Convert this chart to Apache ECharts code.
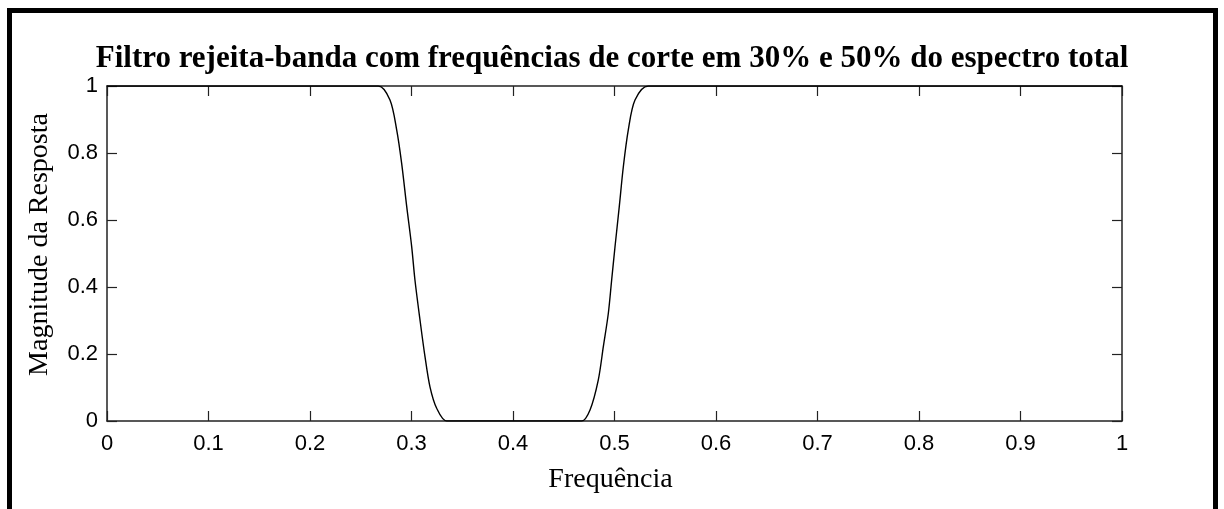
<!DOCTYPE html>
<html>
<head>
<meta charset="utf-8">
<script src="https://cdn.jsdelivr.net/npm/echarts@6/dist/echarts.min.js"></script>
<style>
  html, body { margin: 0; padding: 0; background: #fff; }
  #main { width: 1224px; height: 509px; }
</style>
</head>
<body>
<div id="main"></div>
<script>
// pontos (frequencia normalizada, magnitude)
var freq = [0, 0.2673, 0.2788, 0.2854, 0.2903, 0.2953, 0.3002, 0.3034, 0.3084, 0.3133, 0.3182, 0.3248, 0.3347,
            0.4000, 0.4677, 0.4759, 0.4840, 0.4890, 0.4939, 0.4972, 0.5005, 0.5047, 0.5087, 0.5136, 0.5202, 0.5333, 1];
var magnitude = [1, 1, 0.958, 0.869, 0.769, 0.640, 0.520, 0.421, 0.301, 0.192, 0.102, 0.038, 0,
                 0, 0, 0.033, 0.122, 0.222, 0.321, 0.421, 0.520, 0.640, 0.759, 0.869, 0.958, 1, 1];
var xTicks = [0, 0.1, 0.2, 0.3, 0.4, 0.5, 0.6, 0.7, 0.8, 0.9, 1];
var yTicks = [0, 0.2, 0.4, 0.6, 0.8, 1];

var myChart = echarts.init(document.getElementById('main'));

var pts = freq.map(function (f, i) { return [f, magnitude[i]]; });

var axisLine = { onZero: false, lineStyle: { color: '#222', width: 1.5 } };
var tick = { inside: true, length: 10, lineStyle: { color: '#222', width: 1.2 } };
var tickLabel = { color: '#000', fontFamily: 'Liberation Sans', fontSize: 22 };

myChart.setOption({
  animation: false,
  backgroundColor: '#fff',
  title: {
    text: 'Filtro rejeita-banda com frequências de corte em 30% e 50% do espectro total',
    left: 'center',
    top: 38,
    textStyle: { fontFamily: 'Liberation Serif', fontWeight: 'bold', fontSize: 31, color: '#000' }
  },
  graphic: [{
    type: 'rect',
    shape: { x: 9.5, y: 10.5, width: 1206, height: 600 },
    style: { fill: null, stroke: '#000', lineWidth: 5 }
  }],
  grid: { left: 107, top: 86, right: 102, bottom: 88 },
  xAxis: [{
    type: 'value', min: 0, max: 1, interval: 0.1,
    name: 'Frequência', nameLocation: 'middle', nameGap: 45,
    nameTextStyle: { fontFamily: 'Liberation Serif', fontSize: 28, color: '#000', padding: [0, 8, 0, 0] },
    axisLine: axisLine, axisTick: tick,
    axisLabel: Object.assign({ margin: 12, formatter: function (v) { return xTicks.indexOf(+v.toFixed(1)) >= 0 ? String(+v.toFixed(1)) : ''; } }, tickLabel),
    splitLine: { show: false }
  }, {
    type: 'value', min: 0, max: 1, interval: 0.1, position: 'top',
    axisLine: axisLine, axisTick: tick, axisLabel: { show: false }, splitLine: { show: false }
  }],
  yAxis: [{
    type: 'value', min: 0, max: 1, interval: 0.2,
    name: 'Magnitude da Resposta', nameLocation: 'middle', nameGap: 53,
    nameTextStyle: { fontFamily: 'Liberation Serif', fontSize: 28, color: '#000', padding: [0, 0, 0, 18] },
    axisLine: axisLine, axisTick: tick,
    axisLabel: Object.assign({ margin: 9, formatter: function (v) { return yTicks.indexOf(+v.toFixed(1)) >= 0 ? String(+v.toFixed(1)) : ''; } }, tickLabel),
    splitLine: { show: false }
  }, {
    type: 'value', min: 0, max: 1, interval: 0.2, position: 'right',
    axisLine: axisLine, axisTick: tick, axisLabel: { show: false }, splitLine: { show: false }
  }],
  series: [{
    type: 'line',
    data: pts,
    smooth: 0.3,
    showSymbol: false,
    lineStyle: { color: '#000', width: 1.4 }
  }]
});
</script>
</body>
</html>
